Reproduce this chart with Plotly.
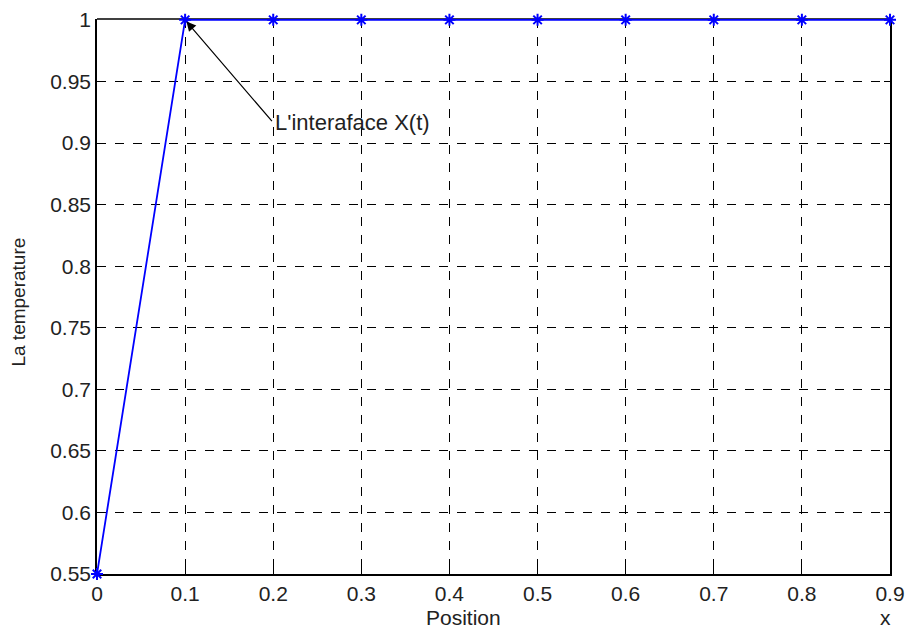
import plotly.graph_objects as go

x_pos = [0, 0.1, 0.2, 0.3, 0.4, 0.5, 0.6, 0.7, 0.8, 0.9]
temperature = [0.55, 1, 1, 1, 1, 1, 1, 1, 1, 1]
x_ticks = [0, 0.1, 0.2, 0.3, 0.4, 0.5, 0.6, 0.7, 0.8, 0.9]
x_ticklabels = ["0", "0.1", "0.2", "0.3", "0.4", "0.5", "0.6", "0.7", "0.8", "0.9"]
y_ticks = [0.55, 0.6, 0.65, 0.7, 0.75, 0.8, 0.85, 0.9, 0.95, 1]
y_ticklabels = ["0.55", "0.6", "0.65", "0.7", "0.75", "0.8", "0.85", "0.9", "0.95", "1"]

font = "Liberation Sans, Arial, sans-serif"
txt = "#222"

fig = go.Figure()
fig.add_trace(go.Scatter(
    x=x_pos, y=temperature, mode="lines+markers",
    line=dict(color="#0000ff", width=1.8),
    marker=dict(symbol="asterisk-open", size=10, color="#0000ff",
                line=dict(color="#0000ff", width=2)),
    cliponaxis=False, showlegend=False,
))

axis_common = dict(
    showline=True, linecolor="black", linewidth=1.5,
    ticks="inside", ticklen=6, tickcolor="black", tickwidth=1,
    showgrid=True, gridcolor="black", griddash="dash", gridwidth=1,
    zeroline=False, automargin=False, layer="below traces",
    tickfont=dict(family=font, size=21, color=txt),
)

fig.update_xaxes(range=[0, 0.9], tickvals=x_ticks, ticktext=x_ticklabels, mirror=False, **axis_common)
fig.update_yaxes(range=[0.55, 1.0007], tickvals=y_ticks, ticktext=y_ticklabels, mirror="ticks", **axis_common)

# top border of the box, drawn beneath the data line
fig.add_shape(type="line", xref="paper", yref="paper", x0=0, x1=1, y0=1, y1=1,
              line=dict(color="black", width=1.5), layer="below")

fig.add_annotation(
    x=0.1, y=1, ax=0.2, ay=0.9165, axref="x", ayref="y",
    text="", showarrow=True, arrowhead=2, arrowsize=1.6, arrowwidth=1.2,
    arrowcolor="black", standoff=2,
)
fig.add_annotation(
    x=0.2, y=0.9165, xanchor="left", yanchor="middle", text="L'interaface X(t)",
    showarrow=False, font=dict(family=font, size=22, color=txt),
)
fig.add_annotation(
    x=0.462, xref="paper", y=-0.079, yref="paper", text="Position", showarrow=False,
    xanchor="center", yanchor="middle", font=dict(family=font, size=21, color=txt),
)
fig.add_annotation(
    x=0.994, xref="paper", y=-0.079, yref="paper", text="x", showarrow=False,
    xanchor="center", yanchor="middle", font=dict(family=font, size=21, color=txt),
)
fig.add_annotation(
    x=-0.099, xref="paper", y=0.49, yref="paper", text="La temperature", showarrow=False,
    textangle=-90, xanchor="center", yanchor="middle", font=dict(family=font, size=19, color=txt),
)

fig.update_layout(
    width=907, height=630,
    margin=dict(l=97, r=17, t=19, b=56),
    paper_bgcolor="white", plot_bgcolor="white",
)

fig.write_html("out.html")
